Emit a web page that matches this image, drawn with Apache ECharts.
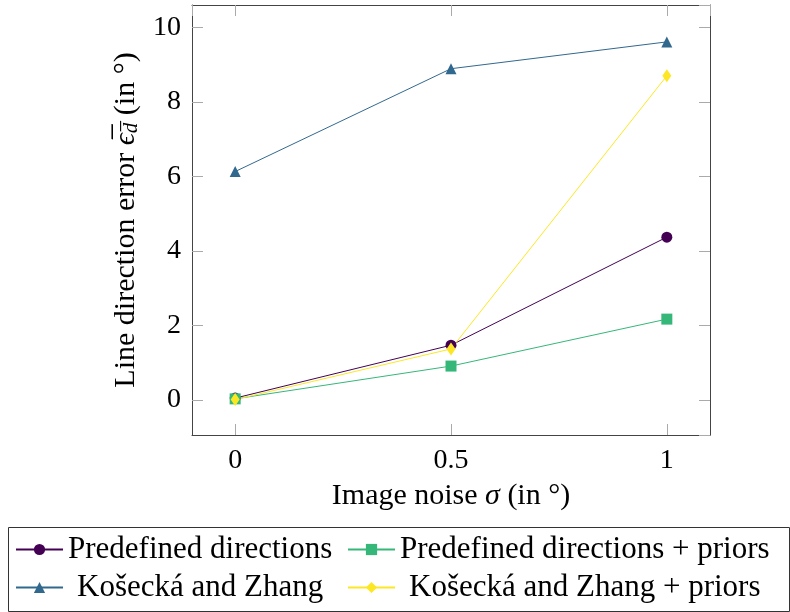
<!DOCTYPE html>
<html><head><meta charset="utf-8">
<script src="https://cdn.jsdelivr.net/npm/echarts@6/dist/echarts.min.js"></script>
<style>html,body{margin:0;padding:0;background:#fff}#c{width:790px;height:612px}</style>
</head><body><div id="c"></div>
<script>
const noise = [0, 0.5, 1];
const predefined = [0.05, 1.47, 4.37];
const predefinedPriors = [0.03, 0.91, 2.17];
const kosecka = [6.13, 8.89, 9.61];
const koseckaPriors = [0.01, 1.37, 8.70];
const seriesNames = ['Predefined directions', 'Predefined directions + priors', 'Košecká and Zhang', 'Košecká and Zhang + priors'];

const FONT = 'Liberation Serif';
const chart = echarts.init(document.getElementById('c'), null, {renderer: 'canvas'});
const pts = v => noise.map((x, i) => [x, v[i]]);
const mk = (name, data, color, symbol, size) => ({
  name, type: 'line', data: pts(data), symbol, symbolSize: size,
  xAxisIndex: 0, yAxisIndex: 0,
  lineStyle: {color, width: 1}, itemStyle: {color}, showSymbol: true, animation: false
});
const axisCommon = {
  type: 'value', splitLine: {show: false},
  axisLine: {show: true, onZero: false, lineStyle: {color: '#444', width: 1}},
  axisTick: {show: true, inside: true, length: 11, lineStyle: {color: '#aaa', width: 1}}
};
const legendBase = {itemWidth: 47, itemHeight: 14, itemGap: 5, textStyle: {fontFamily: FONT, fontSize: 31, color: '#000'}, selectedMode: false, padding: 0};
chart.setOption({
  animation: false,
  grid: {left: 192, top: 5, right: 80, bottom: 177},
  xAxis: [
    Object.assign({}, axisCommon, {min: -0.1, max: 1.1, splitNumber: 2, position: 'bottom',
      name: '{n|Image noise }{s|σ}{n| (in °)}', nameLocation: 'middle', nameGap: 46,
      nameTextStyle: {fontFamily: FONT, fontSize: 30, color: '#000', rich: {
        n: {fontFamily: FONT, fontSize: 30, color: '#000'},
        s: {fontFamily: FONT, fontSize: 30, color: '#000', fontStyle: 'italic'}
      }},
      axisLabel: {fontFamily: FONT, fontSize: 28, color: '#000', margin: 12, showMinLabel: false, showMaxLabel: false}}),
    Object.assign({}, axisCommon, {min: -0.1, max: 1.1, splitNumber: 2, position: 'top', axisLabel: {show: false}})
  ],
  yAxis: [
    Object.assign({}, axisCommon, {min: -0.94, max: 10.6, splitNumber: 5, position: 'left',
      name: '{n|Line direction error }{e|ϵ̅}{d|d̅}{n| (in °)}', nameLocation: 'middle', nameGap: 50,
      nameTextStyle: {fontFamily: FONT, fontSize: 30, color: '#000', rich: {
        n: {fontFamily: FONT, fontSize: 30, color: '#000'},
        e: {fontFamily: FONT, fontSize: 30, color: '#000', fontStyle: 'italic'},
        d: {fontFamily: FONT, fontSize: 21, color: '#000', fontStyle: 'italic', padding: [10, 0, 0, 0]}
      }},
      axisLabel: {fontFamily: FONT, fontSize: 28, color: '#000', margin: 11, showMinLabel: false, showMaxLabel: false}}),
    Object.assign({}, axisCommon, {min: -0.94, max: 10.6, splitNumber: 5, position: 'right', axisLabel: {show: false}})
  ],
  legend: [
    Object.assign({}, legendBase, {data: [seriesNames[0]], left: 15, top: 534}),
    Object.assign({}, legendBase, {data: [seriesNames[1]], left: 347, top: 534}),
    Object.assign({}, legendBase, {data: [seriesNames[2]], left: 15, top: 572,
      textStyle: Object.assign({}, legendBase.textStyle, {padding: [0, 0, 0, 9]})}),
    Object.assign({}, legendBase, {data: [seriesNames[3]], left: 347, top: 572,
      textStyle: Object.assign({}, legendBase.textStyle, {padding: [0, 0, 0, 9]})})
  ],
  graphic: [{type: 'rect', shape: {x: 8.5, y: 527.5, width: 781, height: 84}, style: {fill: 'none', stroke: '#333', lineWidth: 1}, silent: true}],
  series: [
    mk(seriesNames[0], predefined, '#440154', 'circle', 11),
    mk(seriesNames[1], predefinedPriors, '#35b779', 'rect', 11),
    mk(seriesNames[2], kosecka, '#31688e', 'triangle', 11),
    mk(seriesNames[3], koseckaPriors, '#fde725', 'diamond', [9, 13])
  ]
});
</script></body></html>
